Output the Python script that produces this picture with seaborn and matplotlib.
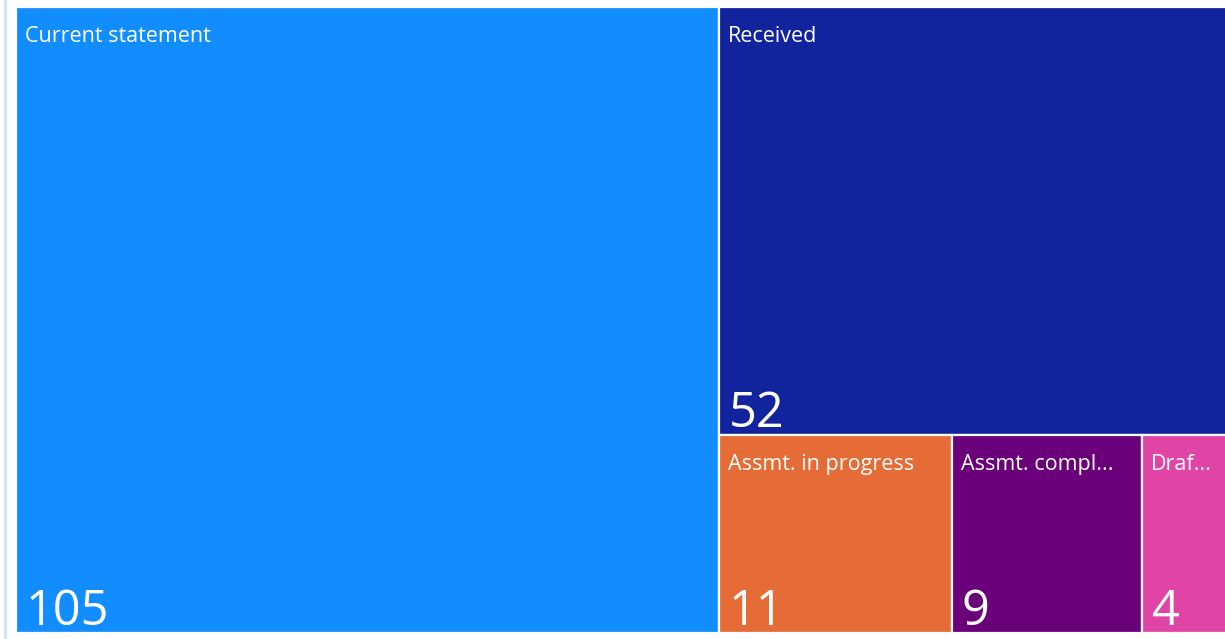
import numpy as np
import pandas as pd
import seaborn as sns
import matplotlib.pyplot as plt
from matplotlib.lines import Line2D

categories = ["Current statement", "Received", "Assmt. in progress", "Assmt. compl...", "Draf..."]
counts = [105, 52, 11, 9, 4]
colours = ["#118DFF", "#12239E", "#E66C37", "#6B007B", "#E044A7"]

sns.set_style("white")
plt.rcParams['font.family'] = ['Open Sans', 'DejaVu Sans']

# simple treemap layout: biggest item takes a column, next takes the top
# of the remaining column, the rest share one row underneath
total = sum(counts)
W, H = 1.0, 1.0
rects = []
w0 = W * counts[0] / total
rects.append((0, 0, w0, H))
rest = total - counts[0]
rw = W - w0
h1 = H * counts[1] / rest
rects.append((w0, 0, rw, h1))
small = sum(counts[2:])
x = w0
for v in counts[2:]:
    w = rw * v / small
    rects.append((x, h1, w, H - h1))
    x += w

df = pd.DataFrame({"name": categories, "count": counts, "colour": colours})
df[["x", "y", "w", "h"]] = rects

fig = plt.figure(figsize=(12.25, 6.39), dpi=100)
ax = fig.add_axes([16 / 1225, 6 / 639, 1211 / 1225, 626 / 639])
ax.bar(df["x"], df["h"], width=df["w"], bottom=df["y"], align="edge",
       color=df["colour"], edgecolor="white", linewidth=1.6)
ax.set_xlim(0, W)
ax.set_ylim(H, 0)
ax.axis("off")

px = 1 / 1211
py = 1 / 626
for _, r in df.iterrows():
    ax.text(r["x"] + 9 * px, r["y"] + 29 * py, r["name"], color="white",
            fontsize=15.5, va="center", ha="left")
    ax.text(r["x"] + 10 * px, r["y"] + r["h"] - 8 * py, str(r["count"]),
            color="white", fontsize=35, va="baseline", ha="left")

fig.add_artist(Line2D([4.5 / 1225, 4.5 / 1225], [0, 1], color="#cfe3f7", linewidth=2))
fig.savefig("out.png", dpi=100)
